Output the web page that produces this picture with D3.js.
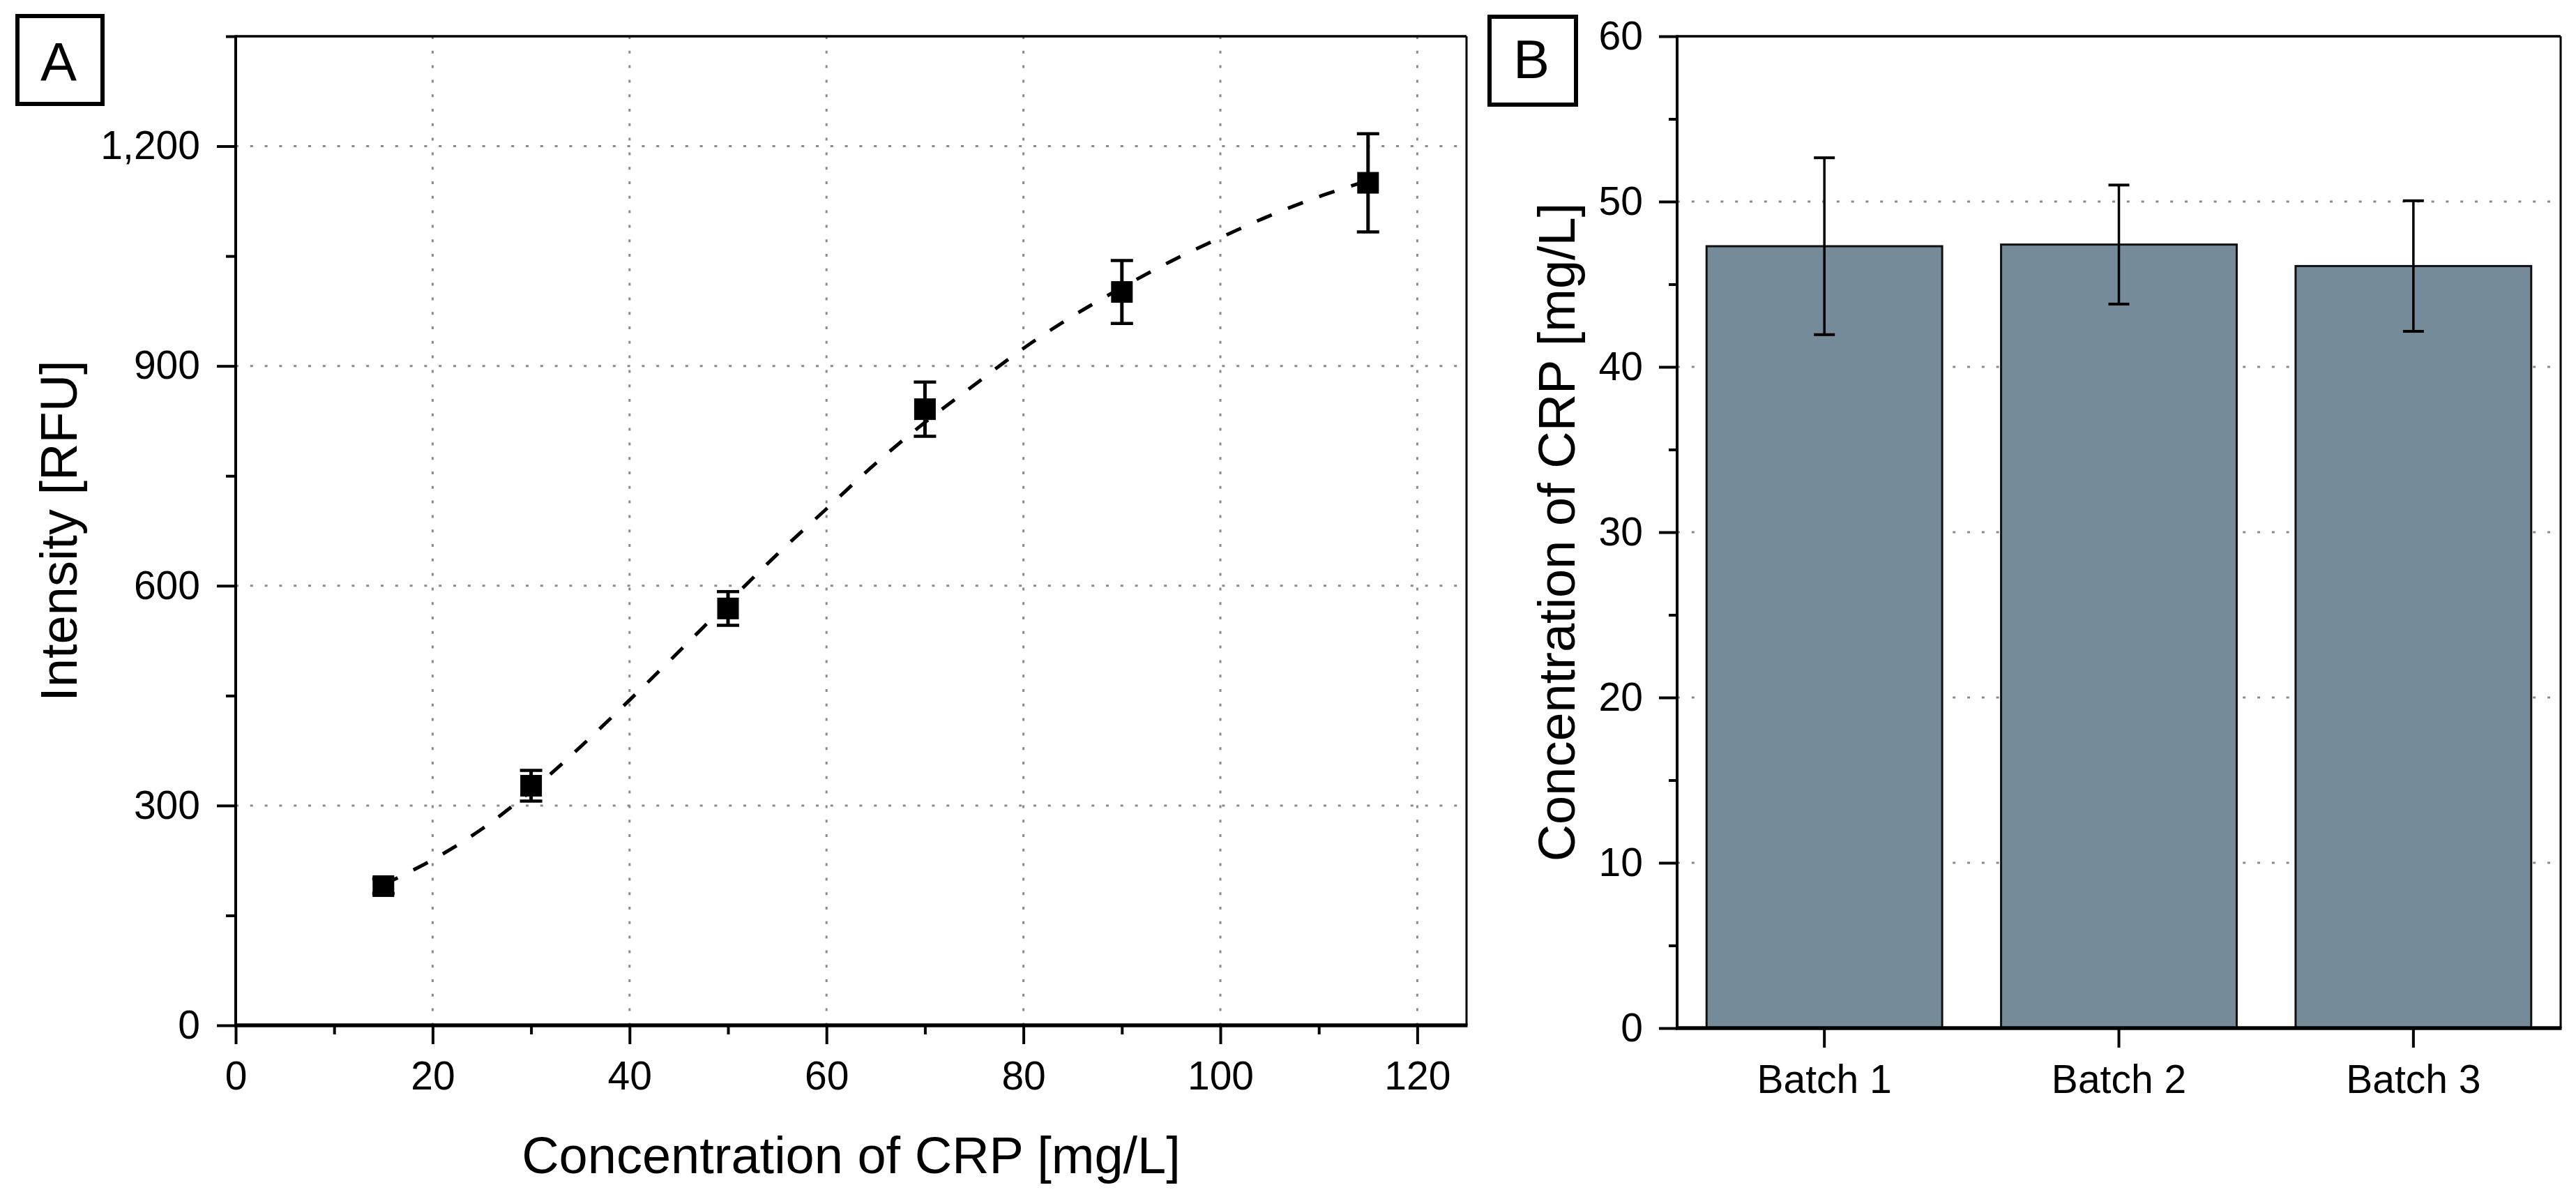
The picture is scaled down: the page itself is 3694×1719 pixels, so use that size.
<!DOCTYPE html>
<html>
<head>
<meta charset="utf-8">
<script src="https://cdn.jsdelivr.net/npm/d3@7/dist/d3.min.js"></script>
<style>
  html, body { margin: 0; padding: 0; background: #fff; }
  svg { display: block; }
  text { font-family: "Liberation Sans", Arial, sans-serif; fill: #000; }
</style>
</head>
<body>
<svg id="chart" width="3694" height="1719"></svg>
<script>
// ---------------- DATA ----------------
// Panel A: calibration points
const concA = [15, 30, 50, 70, 90, 115];
const intensityA = [190, 327, 569, 841, 1001, 1150];
const intensityErrA = [10, 21, 23, 37, 43, 67];
// Panel A: fitted dashed curve
const fitConc = [15, 20, 25, 30, 35, 40, 45, 50, 55, 60, 65, 70, 75, 80, 85, 90, 95, 100, 105, 110, 115];
const fitIntensity = [192, 226, 268, 320, 380, 444, 510, 577, 643, 705, 767, 823, 874, 924, 968, 1007, 1043, 1075, 1105, 1131, 1153];
// Panel A ticks
const xTicksA = [0, 20, 40, 60, 80, 100, 120];
const xMinorA = [10, 30, 50, 70, 90, 110];
const yTicksA = [0, 300, 600, 900, 1200];
const yMinorA = [150, 450, 750, 1050, 1350];
// Panel B: batches
const batches = ["Batch 1", "Batch 2", "Batch 3"];
const batchConc = [47.3, 47.4, 46.1];
const batchErr = [5.35, 3.6, 3.95];
const yTicksB = [0, 10, 20, 30, 40, 50, 60];
const yMinorB = [5, 15, 25, 35, 45, 55];

// ---------------- LAYOUT ----------------
const svg = d3.select("#chart");
svg.append("rect").attr("width", 3694).attr("height", 1719).attr("fill", "#fff");

const A = { left: 338, right: 2103, top: 52, bottom: 1470 };
const B = { left: 2405, right: 3672, top: 52, bottom: 1474 };
const gridColor = "#8a8a8a";
const gridDash = "4,16.8";
const tickFont = 57;
const titleFont = 74;

// ---------------- PANEL A ----------------
const xA = d3.scaleLinear().domain([0, 125]).range([A.left, A.right]);
const yA = d3.scaleLinear().domain([0, 1350]).range([A.bottom, A.top]);
const gA = svg.append("g");

// grid
gA.append("g").selectAll("line").data(xTicksA.filter(d => d > 0)).join("line")
  .attr("x1", d => xA(d)).attr("x2", d => xA(d))
  .attr("y1", A.top).attr("y2", A.bottom)
  .attr("stroke", gridColor).attr("stroke-width", 3).attr("stroke-dasharray", gridDash);
gA.append("g").selectAll("line").data(yTicksA.filter(d => d > 0)).join("line")
  .attr("x1", A.left).attr("x2", A.right)
  .attr("y1", d => yA(d)).attr("y2", d => yA(d))
  .attr("stroke", gridColor).attr("stroke-width", 3).attr("stroke-dasharray", gridDash);

// axes
const axA_x = d3.axisBottom(xA).tickValues(xTicksA).tickSize(27).tickPadding(25);
const axA_xm = d3.axisBottom(xA).tickValues(xMinorA).tickSize(13).tickFormat("");
const axA_y = d3.axisLeft(yA).tickValues(yTicksA).tickSize(27).tickPadding(24).tickFormat(d3.format(","));
const axA_ym = d3.axisLeft(yA).tickValues(yMinorA).tickSize(14).tickFormat("");

function styleAxis(g, fs) {
  g.select(".domain").remove();
  g.selectAll(".tick line").attr("stroke", "#000").attr("stroke-width", 4);
  g.selectAll(".tick text").attr("font-size", fs).attr("font-family", "Liberation Sans, Arial, sans-serif").attr("fill", "#000");
}
gA.append("g").attr("transform", `translate(0,${A.bottom})`).call(axA_x).call(g => styleAxis(g, tickFont));
gA.append("g").attr("transform", `translate(0,${A.bottom})`).call(axA_xm).call(g => styleAxis(g, tickFont));
gA.append("g").attr("transform", `translate(${A.left},0)`).call(axA_y).call(g => styleAxis(g, tickFont));
gA.append("g").attr("transform", `translate(${A.left},0)`).call(axA_ym).call(g => styleAxis(g, tickFont));

// frame
gA.append("line").attr("x1", A.left).attr("x2", A.right).attr("y1", A.top).attr("y2", A.top).attr("stroke", "#000").attr("stroke-width", 3.5);
gA.append("line").attr("x1", A.right).attr("x2", A.right).attr("y1", A.top).attr("y2", A.bottom).attr("stroke", "#000").attr("stroke-width", 3);
gA.append("line").attr("x1", A.left).attr("x2", A.left).attr("y1", A.top - 1.5).attr("y2", A.bottom).attr("stroke", "#000").attr("stroke-width", 4);
gA.append("line").attr("x1", A.left - 2).attr("x2", A.right + 1.5).attr("y1", A.bottom).attr("y2", A.bottom).attr("stroke", "#000").attr("stroke-width", 5.5);

// fitted curve
const fitData = fitConc.map((c, i) => [c, fitIntensity[i]]);
gA.append("path").datum(fitData)
  .attr("d", d3.line().x(d => xA(d[0])).y(d => yA(d[1])).curve(d3.curveCatmullRom.alpha(0.5)))
  .attr("fill", "none").attr("stroke", "#000").attr("stroke-width", 5)
  .attr("stroke-dasharray", "23,25");

// error bars
const ptsA = concA.map((c, i) => ({ c, v: intensityA[i], e: intensityErrA[i] }));
const eb = gA.append("g").attr("stroke", "#000");
eb.selectAll("line.v").data(ptsA).join("line").attr("class", "v")
  .attr("x1", d => xA(d.c)).attr("x2", d => xA(d.c))
  .attr("y1", d => yA(d.v - d.e)).attr("y2", d => yA(d.v + d.e)).attr("stroke-width", 5);
eb.selectAll("line.t").data(ptsA).join("line").attr("class", "t")
  .attr("x1", d => xA(d.c) - 16).attr("x2", d => xA(d.c) + 16)
  .attr("y1", d => yA(d.v + d.e)).attr("y2", d => yA(d.v + d.e)).attr("stroke-width", 4.5);
eb.selectAll("line.b").data(ptsA).join("line").attr("class", "b")
  .attr("x1", d => xA(d.c) - 16).attr("x2", d => xA(d.c) + 16)
  .attr("y1", d => yA(d.v - d.e)).attr("y2", d => yA(d.v - d.e)).attr("stroke-width", 4.5);
// square markers
gA.append("g").selectAll("rect").data(ptsA).join("rect")
  .attr("x", d => xA(d.c) - 15.5).attr("y", d => yA(d.v) - 15.5)
  .attr("width", 31).attr("height", 31).attr("fill", "#000");

// titles
gA.append("text").attr("x", (A.left + A.right) / 2).attr("y", 1682)
  .attr("text-anchor", "middle").attr("font-size", titleFont).text("Concentration of CRP [mg/L]");
gA.append("text").attr("transform", `translate(110,${(A.top + A.bottom) / 2}) rotate(-90)`)
  .attr("text-anchor", "middle").attr("font-size", titleFont).text("Intensity [RFU]");

// panel label A
gA.append("rect").attr("x", 25).attr("y", 23).attr("width", 122).attr("height", 126)
  .attr("fill", "#fff").attr("stroke", "#000").attr("stroke-width", 6);
gA.append("text").attr("x", 84).attr("y", 116).attr("text-anchor", "middle").attr("font-size", 78).text("A");

// ---------------- PANEL B ----------------
const xB = d3.scaleBand().domain(batches).range([B.left, B.right]).paddingInner(0.2).paddingOuter(0.1);
const yB = d3.scaleLinear().domain([0, 60]).range([B.bottom, B.top]);
const gB = svg.append("g");

// grid
gB.append("g").selectAll("line").data(yTicksB.filter(d => d > 0 && d < 60)).join("line")
  .attr("x1", B.left).attr("x2", B.right)
  .attr("y1", d => yB(d)).attr("y2", d => yB(d))
  .attr("stroke", gridColor).attr("stroke-width", 3).attr("stroke-dasharray", gridDash);

// bars
const ptsB = batches.map((b, i) => ({ b, v: batchConc[i], e: batchErr[i] }));
gB.append("g").selectAll("rect").data(ptsB).join("rect")
  .attr("x", d => xB(d.b)).attr("y", d => yB(d.v))
  .attr("width", xB.bandwidth()).attr("height", d => yB(0) - yB(d.v))
  .attr("fill", "#758b9a").attr("stroke", "#111").attr("stroke-width", 3);

// error bars
const ebB = gB.append("g").attr("stroke", "#000");
const cx = d => xB(d.b) + xB.bandwidth() / 2;
ebB.selectAll("line.v").data(ptsB).join("line").attr("class", "v")
  .attr("x1", cx).attr("x2", cx)
  .attr("y1", d => yB(d.v - d.e)).attr("y2", d => yB(d.v + d.e)).attr("stroke-width", 3.5);
ebB.selectAll("line.t").data(ptsB).join("line").attr("class", "t")
  .attr("x1", d => cx(d) - 15).attr("x2", d => cx(d) + 15)
  .attr("y1", d => yB(d.v + d.e)).attr("y2", d => yB(d.v + d.e)).attr("stroke-width", 4);
ebB.selectAll("line.b").data(ptsB).join("line").attr("class", "b")
  .attr("x1", d => cx(d) - 15).attr("x2", d => cx(d) + 15)
  .attr("y1", d => yB(d.v - d.e)).attr("y2", d => yB(d.v - d.e)).attr("stroke-width", 4);

// axes
const axB_x = d3.axisBottom(xB).tickSize(28).tickPadding(25);
const axB_y = d3.axisLeft(yB).tickValues(yTicksB).tickSize(26).tickPadding(23);
const axB_ym = d3.axisLeft(yB).tickValues(yMinorB).tickSize(12).tickFormat("");
gB.append("g").attr("transform", `translate(0,${B.bottom})`).call(axB_x).call(g => styleAxis(g, tickFont));
gB.append("g").attr("transform", `translate(${B.left},0)`).call(axB_y).call(g => styleAxis(g, tickFont));
gB.append("g").attr("transform", `translate(${B.left},0)`).call(axB_ym).call(g => styleAxis(g, tickFont));

// frame
gB.append("line").attr("x1", B.left).attr("x2", B.right).attr("y1", B.top).attr("y2", B.top).attr("stroke", "#000").attr("stroke-width", 3.5);
gB.append("line").attr("x1", B.right).attr("x2", B.right).attr("y1", B.top).attr("y2", B.bottom).attr("stroke", "#000").attr("stroke-width", 3);
gB.append("line").attr("x1", B.left).attr("x2", B.left).attr("y1", B.top - 1.5).attr("y2", B.bottom).attr("stroke", "#000").attr("stroke-width", 4);
gB.append("line").attr("x1", B.left - 2).attr("x2", B.right + 1.5).attr("y1", B.bottom).attr("y2", B.bottom).attr("stroke", "#000").attr("stroke-width", 5.5);

// title
gB.append("text").attr("transform", `translate(2258,${(B.top + B.bottom) / 2}) rotate(-90)`)
  .attr("text-anchor", "middle").attr("font-size", titleFont).text("Concentration of CRP [mg/L]");

// panel label B
gB.append("rect").attr("x", 2136).attr("y", 24).attr("width", 124).attr("height", 126)
  .attr("fill", "#fff").attr("stroke", "#000").attr("stroke-width", 6);
gB.append("text").attr("x", 2196).attr("y", 112).attr("text-anchor", "middle").attr("font-size", 78).text("B");
</script>
</body>
</html>
